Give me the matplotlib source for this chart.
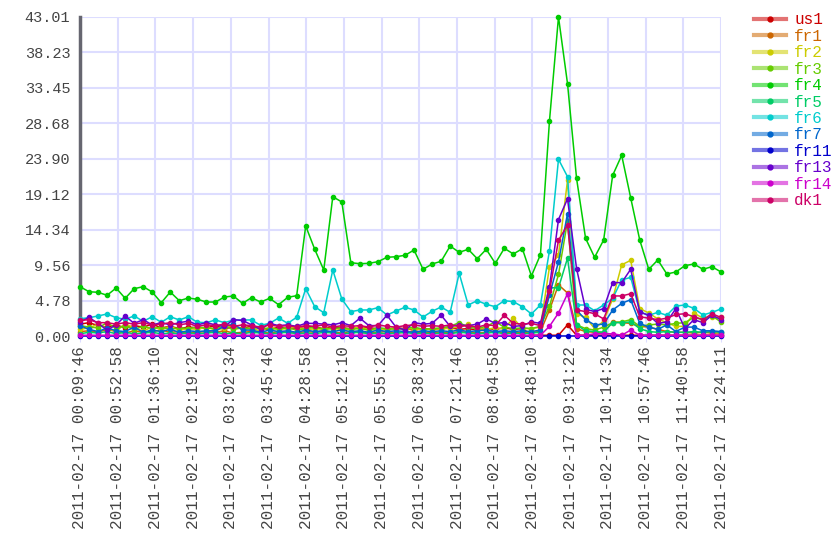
import numpy as np
import matplotlib
matplotlib.use("Agg")
import matplotlib.pyplot as plt
from matplotlib.lines import Line2D
from matplotlib.legend_handler import HandlerTuple

# --- data ---
names = ["us1", "fr1", "fr2", "fr3", "fr4", "fr5", "fr6", "fr7", "fr11", "fr13", "fr14", "dk1"]
colors = ["#cc0000", "#cc6600", "#cccc00", "#66cc00", "#00cc00", "#00cc66",
          "#00cccc", "#0066cc", "#0000cc", "#6600cc", "#cc00cc", "#cc0066"]

time_labels = ["2011-02-17 00:09:46", "2011-02-17 00:52:58", "2011-02-17 01:36:10",
               "2011-02-17 02:19:22", "2011-02-17 03:02:34", "2011-02-17 03:45:46",
               "2011-02-17 04:28:58", "2011-02-17 05:12:10", "2011-02-17 05:55:22",
               "2011-02-17 06:38:34", "2011-02-17 07:21:46", "2011-02-17 08:04:58",
               "2011-02-17 08:48:10", "2011-02-17 09:31:22", "2011-02-17 10:14:34",
               "2011-02-17 10:57:46", "2011-02-17 11:40:58", "2011-02-17 12:24:11"]
y_labels = ["0.00", "4.78", "9.56", "14.34", "19.12", "23.90", "28.68", "33.45", "38.23", "43.01"]

us1 = [1.6, 1.8, 1.4, 1.2, 1.5, 1.1, 1.4, 1.2, 1.6, 1.1,
       1.3, 1.0, 1.2, 1.1, 1.1, 1.4, 1.0, 1.2, 1.1, 1.3,
       1.0, 0.9, 1.2, 1.0, 1.1, 1.3, 1.2, 1.0, 1.2, 1.1,
       1.0, 1.2, 1.1, 1.0, 0.9, 1.1, 1.0, 0.8, 1.0, 0.9,
       1.0, 1.1, 0.9, 1.0, 0.8, 1.0, 0.9, 1.1, 0.9, 1.0,
       0.1, 0.1, 0.1, 0.1, 1.5, 0.1, 0.1, 0.1, 0.1, 0.1,
       0.1, 0.1, 0.1, 0.1, 0.1, 0.1, 0.1, 0.1, 0.1, 0.1,
       0.1, 0.1]
fr1 = [0.6, 0.7, 0.5, 0.9, 0.6, 0.4, 0.7, 0.5, 0.6, 0.8,
       0.5, 0.6, 0.4, 0.5, 0.6, 0.5, 0.7, 0.4, 0.5, 0.6,
       0.5, 0.4, 0.6, 0.5, 0.4, 0.6, 0.5, 0.7, 0.5, 0.4,
       0.6, 0.5, 0.4, 0.5, 0.6, 0.4, 0.5, 0.6, 0.4, 0.5,
       0.5, 0.4, 0.6, 0.5, 0.4, 0.5, 0.6, 0.4, 0.5, 0.4,
       0.5, 0.6, 3.5, 6.9, 5.8, 1.0, 0.6, 0.5, 0.5, 1.9,
       1.8, 1.7, 1.3, 1.2, 0.9, 0.6, 0.5, 0.5, 0.4, 0.5,
       0.4, 0.4]
fr2 = [0.9, 1.1, 1.6, 1.0, 0.6, 1.7, 1.0, 0.7, 1.2, 0.9,
       1.3, 0.8, 1.0, 0.9, 1.2, 0.8, 1.1, 1.4, 0.9, 1.0,
       0.7, 1.2, 0.9, 1.0, 1.3, 0.8, 1.0, 0.9, 1.1, 0.8,
       1.0, 1.2, 0.9, 0.8, 1.0, 1.1, 0.9, 1.0, 0.8, 1.0,
       0.9, 1.1, 1.2, 1.6, 1.0, 0.9, 1.1, 1.0, 2.4, 1.0,
       1.0, 1.2, 9.3, 10.9, 21.0, 3.0, 2.5, 1.0, 2.0, 5.0,
       9.6, 10.2, 3.7, 3.1, 2.3, 1.8, 1.3, 1.3, 3.1, 2.4,
       2.6, 2.5]
fr3 = [1.4, 1.2, 1.1, 1.8, 1.0, 1.4, 0.9, 1.3, 1.0, 1.2,
       0.9, 1.1, 1.0, 1.2, 1.1, 1.0, 1.3, 0.9, 1.1, 1.0,
       1.2, 0.9, 1.0, 1.1, 0.8, 1.0, 1.2, 0.9, 1.0, 1.1,
       0.9, 1.0, 0.8, 1.1, 1.0, 0.9, 1.0, 1.2, 0.9, 1.0,
       1.1, 1.3, 1.8, 1.2, 1.0, 1.3, 1.9, 1.2, 1.0, 1.1,
       1.0, 1.3, 4.0, 8.3, 15.5, 1.5, 1.0, 0.8, 1.2, 1.8,
       1.9, 2.2, 1.3, 1.5, 1.6, 1.5, 1.7, 1.8, 2.5, 2.2,
       2.7, 1.9]
fr4 = [6.65, 5.97, 5.89, 5.49, 6.47, 5.08, 6.38, 6.65, 5.93, 4.49,
       5.93, 4.76, 5.12, 4.95, 4.58, 4.58, 5.26, 5.39, 4.40, 5.17,
       4.58, 5.08, 4.22, 5.21, 5.44, 14.83, 11.69, 8.90, 18.78, 18.07,
       9.88, 9.75, 9.80, 10.02, 10.61, 10.69, 10.88, 11.59, 8.99, 9.71,
       10.07, 12.13, 11.28, 11.69, 10.42, 11.69, 9.80, 11.82, 11.06, 11.77,
       8.09, 10.96, 28.99, 43.01, 34.02, 21.26, 13.17, 10.61, 12.94, 21.66,
       24.36, 18.61, 12.94, 8.99, 10.25, 8.36, 8.63, 9.48, 9.71, 8.99,
       9.35, 8.63]
fr5 = [0.3, 0.5, 0.4, 0.6, 0.3, 0.5, 0.3, 0.4, 0.5, 0.3,
       0.4, 0.3, 0.4, 0.3, 0.4, 0.5, 0.3, 0.4, 0.3, 0.5,
       0.4, 0.3, 0.4, 0.5, 0.3, 0.4, 0.3, 0.5, 0.4, 0.3,
       0.4, 0.5, 0.3, 0.4, 0.3, 0.4, 0.5, 0.3, 0.4, 0.3,
       0.4, 0.3, 0.5, 0.4, 0.3, 0.4, 0.5, 0.3, 0.4, 0.3,
       0.4, 0.5, 6.5, 6.5, 10.5, 1.5, 0.7, 0.6, 0.5, 1.8,
       1.8, 1.9, 1.0, 0.6, 0.5, 0.6, 0.5, 0.5, 0.6, 0.5,
       0.6, 0.5]
fr6 = [2.33, 2.47, 2.70, 2.97, 2.47, 2.25, 2.70, 1.98, 2.60, 1.85,
       2.60, 2.16, 2.60, 1.85, 1.80, 2.16, 1.80, 2.16, 2.16, 2.16,
       1.44, 1.71, 2.43, 1.71, 2.52, 6.38, 3.95, 3.14, 8.90, 4.99,
       3.28, 3.51, 3.51, 3.82, 2.83, 3.37, 3.87, 3.51, 2.56, 3.33,
       3.91, 3.19, 8.45, 4.18, 4.76, 4.27, 3.95, 4.76, 4.63, 3.95,
       2.97, 4.18, 11.50, 23.82, 21.48, 4.18, 4.18, 3.41, 4.18, 5.08,
       7.55, 7.91, 3.28, 2.79, 3.19, 2.79, 4.04, 4.18, 3.73, 2.83,
       3.19, 3.64]
fr7 = [1.4, 0.9, 0.6, 1.1, 0.7, 0.6, 1.2, 0.5, 0.8, 0.6,
       0.9, 0.5, 0.7, 0.6, 0.7, 0.7, 1.3, 1.6, 0.8, 0.8,
       0.5, 0.8, 0.6, 0.7, 0.5, 0.8, 0.6, 0.7, 0.6, 0.8,
       0.6, 0.7, 0.5, 0.8, 0.6, 0.7, 0.6, 0.5, 0.7, 0.6,
       0.7, 0.6, 0.8, 0.6, 0.7, 0.8, 0.6, 0.7, 0.6, 0.7,
       0.6, 0.8, 5.5, 10.0, 16.5, 3.5, 2.2, 1.5, 1.6, 3.5,
       4.4, 4.9, 1.7, 1.2, 0.9, 1.5, 0.6, 1.2, 1.2, 0.7,
       0.7, 0.6]
fr11 = [0.0, 0.0, 0.0, 0.0, 0.0, 0.0, 0.0, 0.0, 0.0, 0.0,
        0.0, 0.0, 0.0, 0.0, 0.0, 0.0, 0.0, 0.0, 0.0, 0.0,
        0.0, 0.0, 0.0, 0.0, 0.0, 0.0, 0.0, 0.0, 0.0, 0.0,
        0.0, 0.0, 0.0, 0.0, 0.0, 0.0, 0.0, 0.0, 0.0, 0.0,
        0.0, 0.0, 0.0, 0.0, 0.0, 0.0, 0.0, 0.0, 0.0, 0.0,
        0.0, 0.0, 0.0, 0.0, 0.0, 0.0, 0.0, 0.0, 0.0, 0.0,
        0.0, 0.0, 0.0, 0.0, 0.0, 0.0, 0.0, 0.0, 0.0, 0.0,
        0.0, 0.0]
fr13 = [1.9, 2.5, 1.7, 0.8, 1.5, 2.7, 1.7, 2.2, 1.5, 1.8,
        1.5, 1.8, 2.0, 1.5, 1.8, 1.5, 1.3, 2.2, 2.1, 1.5,
        0.9, 1.7, 1.4, 1.5, 1.3, 1.7, 1.7, 1.6, 1.5, 1.8,
        1.4, 2.4, 1.4, 1.4, 2.8, 1.2, 0.8, 1.8, 1.6, 1.7,
        2.8, 1.3, 1.5, 1.4, 1.6, 2.3, 1.7, 1.8, 1.3, 1.4,
        1.9, 1.7, 6.6, 15.7, 18.5, 9.1, 3.6, 3.3, 3.7, 7.2,
        7.2, 9.0, 3.2, 2.8, 1.7, 1.9, 3.7, 1.0, 2.2, 1.8,
        2.8, 2.2]
fr14 = [0.1, 0.1, 0.1, 0.1, 0.1, 0.1, 0.1, 0.1, 0.1, 0.1,
        0.1, 0.1, 0.1, 0.1, 0.1, 0.1, 0.1, 0.1, 0.1, 0.1,
        0.1, 0.1, 0.1, 0.1, 0.1, 0.1, 0.1, 0.1, 0.1, 0.1,
        0.1, 0.1, 0.1, 0.1, 0.1, 0.1, 0.1, 0.1, 0.1, 0.1,
        0.1, 0.1, 0.1, 0.1, 0.1, 0.1, 0.1, 0.1, 0.1, 0.1,
        0.1, 0.1, 1.3, 3.1, 5.7, 0.1, 0.1, 0.3, 0.3, 0.3,
        0.1, 0.8, 0.1, 0.1, 0.1, 0.1, 0.1, 0.1, 0.1, 0.1,
        0.1, 0.1]
dk1 = [2.1, 2.2, 1.8, 1.8, 1.6, 1.8, 1.6, 1.8, 1.5, 1.6,
       1.8, 1.5, 1.7, 1.3, 1.5, 1.4, 1.6, 1.3, 1.5, 1.4,
       1.2, 1.5, 1.3, 1.4, 1.2, 1.4, 1.3, 1.5, 1.2, 1.4,
       1.3, 1.4, 1.2, 1.5, 1.3, 1.2, 1.4, 1.5, 1.3, 1.4,
       1.3, 1.5, 1.3, 1.4, 1.2, 1.5, 1.4, 2.8, 1.7, 1.6,
       1.7, 1.4, 6.0, 12.9, 15.0, 3.5, 3.3, 3.0, 2.3, 5.4,
       5.4, 5.7, 2.6, 2.4, 2.2, 2.4, 2.9, 3.0, 2.6, 2.2,
       3.0, 2.5]

series = [us1, fr1, fr2, fr3, fr4, fr5, fr6, fr7, fr11, fr13, fr14, dk1]

# --- plot ---
plt.rcParams["font.family"] = ["Liberation Mono", "DejaVu Sans Mono"]
fig = plt.figure(figsize=(8.4, 5.6), dpi=100)
ax = fig.add_axes([80 / 840, 1 - 336 / 560, 641 / 840, 319 / 560])

x = np.arange(len(fr4))
handles = []
for name, vals, c in zip(names, series, colors):
    ax.plot(x, vals, color=c, lw=1.1, marker="o", ms=3, mec=c, clip_on=False, zorder=3)
    h_line = Line2D([], [], color=c, lw=3, alpha=0.55)
    h_dot = Line2D([], [], color=c, lw=0, marker="o", ms=3.5)
    handles.append((h_line, h_dot))

ymax = 43.01
ax.set_xlim(0, len(fr4) - 1)
ax.set_ylim(0, ymax)
ax.set_xticks(np.linspace(0, len(fr4) - 1, len(time_labels)))
ax.set_xticklabels(time_labels, rotation=90, fontsize=11.5, color="#444444")
ax.set_yticks(np.linspace(0, ymax, len(y_labels)))
ax.set_yticklabels(y_labels, fontsize=11, color="#444444")
ax.tick_params(axis="both", length=4, color="#ddddff", pad=3)
ax.tick_params(axis="y", length=0, pad=7)
ax.grid(True, color="#ddddff", lw=1.5)
ax.set_axisbelow(True)
for s in ["top", "right", "bottom"]:
    ax.spines[s].set_visible(False)
ax.spines["left"].set_color("#666670")
ax.spines["left"].set_linewidth(2.5)

leg = fig.legend(handles, names, handler_map={tuple: HandlerTuple(ndivide=1)},
                 loc="upper left", bbox_to_anchor=(748 / 840, 1 - 6 / 560),
                 frameon=False, fontsize=11.5, handlelength=2.0, labelspacing=0.09,
                 handletextpad=0.5, borderaxespad=0)
for t, c in zip(leg.get_texts(), colors):
    t.set_color(c)

fig.savefig("out.png", dpi=100)
